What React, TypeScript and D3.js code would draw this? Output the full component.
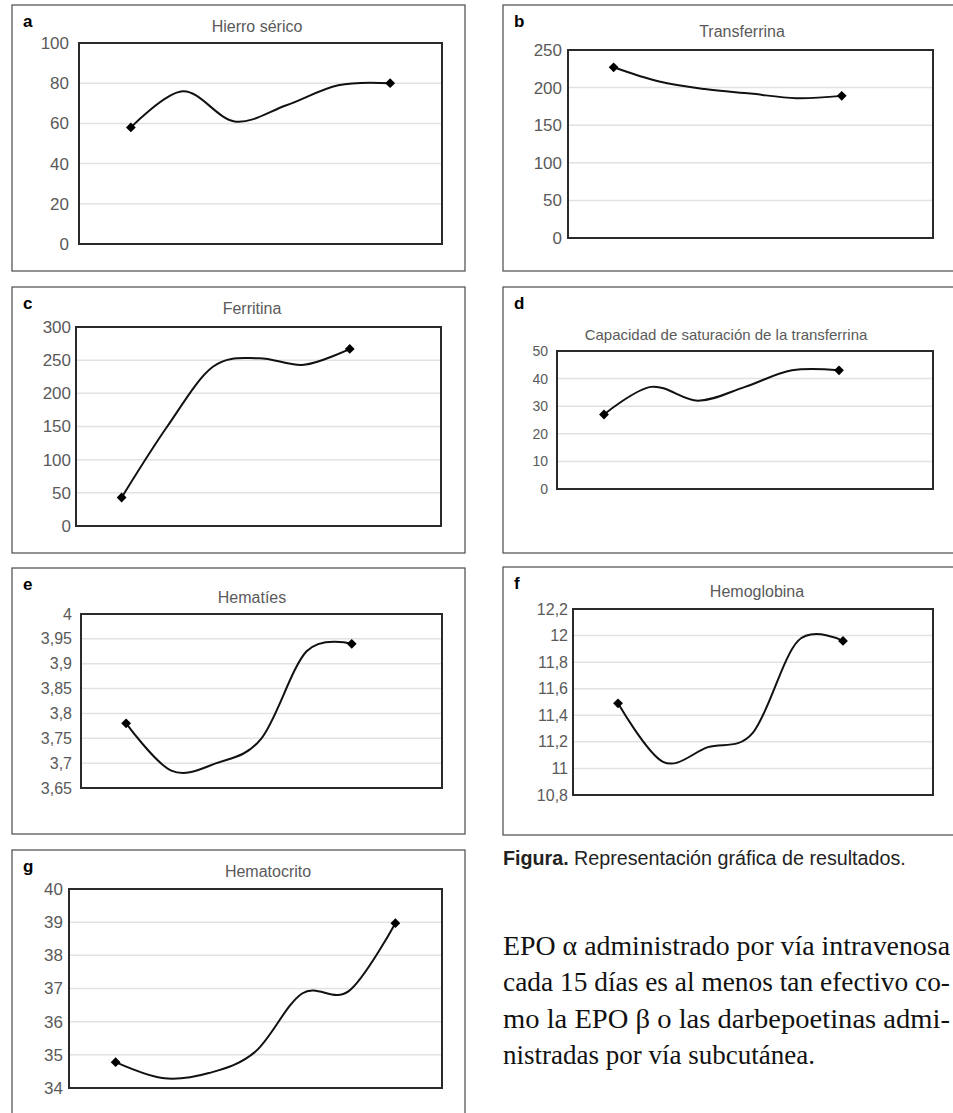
import React, { useEffect, useRef } from "react";
import * as d3 from "d3";

// values (only first and last points carry a marker)
const hierroValues = [58, 76, 61, 69, 79, 80];
const transferrinaValues = [227, 208, 198, 192, 186, 189];
const ferritinaValues = [43, 150, 240, 253, 243, 267];
const saturacionValues = [27, 37, 32, 37, 43, 43];
const hematiesValues = [3.78, 3.685, 3.7, 3.75, 3.925, 3.94];
const hemoglobinaValues = [11.49, 11.05, 11.16, 11.27, 11.96, 11.96];
const hematocritoValues = [34.78, 34.3, 34.45, 35.1, 36.85, 36.92, 38.97];

const hierroTicks = [0, 20, 40, 60, 80, 100];
const transferrinaTicks = [0, 50, 100, 150, 200, 250];
const ferritinaTicks = [0, 50, 100, 150, 200, 250, 300];
const saturacionTicks = [0, 10, 20, 30, 40, 50];
const hematiesTicks = [3.65, 3.7, 3.75, 3.8, 3.85, 3.9, 3.95, 4];
const hemoglobinaTicks = [10.8, 11, 11.2, 11.4, 11.6, 11.8, 12, 12.2];
const hematocritoTicks = [34, 35, 36, 37, 38, 39, 40];

const panelLetters = ["a", "b", "c", "d", "e", "f", "g"];
const panelTitles = [
  "Hierro sérico",
  "Transferrina",
  "Ferritina",
  "Capacidad de saturación de la transferrina",
  "Hematíes",
  "Hemoglobina",
  "Hematocrito",
];

const captionBold = "Figura.";
const captionText = " Representación gráfica de resultados.";
const paragraphLines = [
  "EPO α administrado por vía intravenosa",
  "cada 15 días es al menos tan efectivo co-",
  "mo la EPO β o las darbepoetinas admi-",
  "nistradas por vía subcutánea.",
];

const W = 953;
const H = 1113;

const panels = [
  { values: hierroValues, ticks: hierroTicks, slots: 7, box: [12, 5, 453, 266], plot: [79, 43, 442, 244], fs: 17, pad: 10, tx: 257, ty: 32, ts: 16 },
  { values: transferrinaValues, ticks: transferrinaTicks, slots: 8, box: [503, 5, 470, 266], plot: [568, 50, 933, 238], fs: 17, pad: 6, tx: 742, ty: 37, ts: 16 },
  { values: ferritinaValues, ticks: ferritinaTicks, slots: 8, box: [12, 287, 453, 266], plot: [76, 327, 441, 526], fs: 17, pad: 5, tx: 252, ty: 314, ts: 16 },
  { values: saturacionValues, ticks: saturacionTicks, slots: 8, box: [503, 287, 470, 266], plot: [557, 351, 933, 489], fs: 14, pad: 9, tx: 726, ty: 340, ts: 15 },
  { values: hematiesValues, ticks: hematiesTicks, slots: 8, box: [12, 568, 453, 266], plot: [81, 614, 442, 788], fs: 16, pad: 9, tx: 252, ty: 603, ts: 16 },
  { values: hemoglobinaValues, ticks: hemoglobinaTicks, slots: 8, box: [503, 567, 470, 268], plot: [573, 609, 933, 795], fs: 16, pad: 5, tx: 757, ty: 597, ts: 16 },
  { values: hematocritoValues, ticks: hematocritoTicks, slots: 8, box: [12, 850, 453, 300], plot: [69, 889, 442, 1088], fs: 17, pad: 6, tx: 268, ty: 877, ts: 16 },
];

const fmt = (v: number) => String(+v.toFixed(2)).replace(".", ",");

const App = () => {
  const svgRef = useRef<SVGSVGElement>(null);

  useEffect(() => {
    const svg = d3.select(svgRef.current);
    svg.selectAll("*").remove();

    svg.append("rect").attr("width", W).attr("height", H).attr("fill", "#fff");

    panels.forEach((p, i) => {
      const [bx, by, bw, bh] = p.box;
      const [l, t, r, b] = p.plot;
      const g = svg.append("g");

      // outer frame
      g.append("rect")
        .attr("x", bx).attr("y", by).attr("width", bw).attr("height", bh)
        .attr("fill", "none").attr("stroke", "#4a4a4a").attr("stroke-width", 1.2);

      g.append("text")
        .attr("x", bx + 11).attr("y", by + 22)
        .attr("font-family", "Liberation Sans, Arial, sans-serif")
        .attr("font-weight", "bold").attr("font-size", 17)
        .attr("fill", "#000")
        .text(panelLetters[i]);

      g.append("text")
        .attr("x", p.tx).attr("y", p.ty)
        .attr("text-anchor", "middle")
        .attr("font-family", "Liberation Sans, Arial, sans-serif")
        .attr("font-size", p.ts).attr("fill", "#5a5a5a")
        .text(panelTitles[i]);

      const x = d3.scaleLinear().domain([0, p.slots]).range([l, r]);
      const y = d3.scaleLinear().domain([p.ticks[0], p.ticks[p.ticks.length - 1]]).range([b, t]);

      // gridlines
      g.append("g")
        .selectAll("line")
        .data(p.ticks)
        .enter().append("line")
        .attr("x1", l).attr("x2", r)
        .attr("y1", d => y(d)).attr("y2", d => y(d))
        .attr("stroke", "#e2e2e2").attr("stroke-width", 1.5);

      // y axis labels
      const axis = g.append("g")
        .attr("transform", `translate(${l},0)`)
        .call(d3.axisLeft(y).tickValues(p.ticks).tickFormat(d => fmt(+d)).tickSize(0).tickPadding(p.pad));
      axis.select(".domain").remove();
      axis.selectAll("text")
        .attr("font-family", "Liberation Sans, Arial, sans-serif")
        .attr("font-size", p.fs)
        .attr("fill", "#5a5a5a");

      // plot frame
      g.append("rect")
        .attr("x", l).attr("y", t).attr("width", r - l).attr("height", b - t)
        .attr("fill", "none").attr("stroke", "#2a2a2a").attr("stroke-width", 2);

      const pts = p.values.map((v, k) => [x(k + 1), y(v)] as [number, number]);
      const line = d3.line().curve(d3.curveCardinal.tension(0));
      g.append("path")
        .attr("d", line(pts))
        .attr("fill", "none").attr("stroke", "#111").attr("stroke-width", 2);

      const diamond = d3.symbol().type(d3.symbolSquare).size(48);
      g.selectAll(".mk")
        .data([pts[0], pts[pts.length - 1]])
        .enter().append("path")
        .attr("class", "mk")
        .attr("d", diamond())
        .attr("transform", d => `translate(${d[0]},${d[1]}) rotate(45)`)
        .attr("fill", "#000");
    });

    // caption
    const cap = svg.append("text")
      .attr("x", 503).attr("y", 865)
      .attr("font-family", "Liberation Sans, Arial, sans-serif")
      .attr("font-size", 19.7).attr("fill", "#222");
    cap.append("tspan").attr("font-weight", "bold").text(captionBold);
    cap.append("tspan").text(captionText);

    // body text
    svg.append("g")
      .selectAll("text")
      .data(paragraphLines)
      .enter().append("text")
      .attr("x", 503)
      .attr("y", (d, k) => 955 + k * 36.3)
      .attr("font-family", "Liberation Serif, Times New Roman, serif")
      .attr("font-size", 27)
      .attr("fill", "#111")
      .attr("textLength", (d, k) => (k < 3 ? 447 : null))
      .attr("lengthAdjust", "spacingAndGlyphs")
      .text(d => d);
  }, []);

  return (
    <div style={{ position: "absolute", left: 0, top: 0 }}>
      <svg ref={svgRef} width={W} height={H} style={{ display: "block" }} />
    </div>
  );
};

export default App;
